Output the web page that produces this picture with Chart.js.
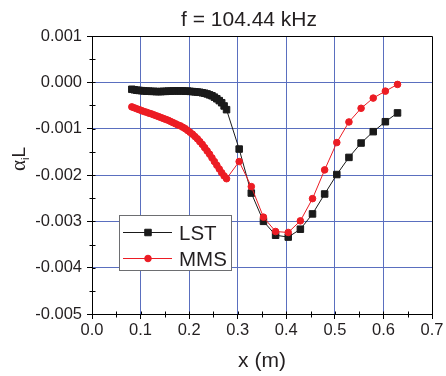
<!DOCTYPE html>
<html lang="en">
<head>
<meta charset="UTF-8" />
<title>f = 104.44 kHz</title>
<script src="https://cdn.jsdelivr.net/npm/chart.js@4"></script>
<style>
  body { margin: 0; background: #fff; }
  canvas { display: block; }
</style>
</head>
<body>
<canvas id="alphaChart" width="446" height="376"></canvas>
<script>
  // stations along x (m): dense up to 0.277, then every ~0.025
  const xStations = [
    0.082, 0.087, 0.092, 0.097, 0.102, 0.107, 0.112, 0.117, 0.122, 0.127,
    0.132, 0.137, 0.142, 0.147, 0.152, 0.157, 0.162, 0.167, 0.172, 0.177,
    0.182, 0.187, 0.192, 0.197, 0.202, 0.207, 0.212, 0.217, 0.222, 0.227,
    0.232, 0.237, 0.242, 0.247, 0.252, 0.257, 0.262, 0.267, 0.272, 0.277,
    0.303, 0.328, 0.353, 0.378, 0.404, 0.429, 0.454, 0.479, 0.504, 0.529,
    0.554, 0.579, 0.604, 0.629
  ];

  // alpha_i * L from linear stability theory
  const lstAlpha = [
    -0.000150, -0.000160, -0.000170, -0.000175, -0.000180, -0.000185, -0.000190, -0.000190, -0.000195, -0.000195,
    -0.000200, -0.000200, -0.000200, -0.000195, -0.000195, -0.000190, -0.000190, -0.000185, -0.000185, -0.000185,
    -0.000185, -0.000185, -0.000190, -0.000190, -0.000195, -0.000200, -0.000205, -0.000210, -0.000215, -0.000225,
    -0.000235, -0.000250, -0.000270, -0.000290, -0.000320, -0.000355, -0.000395, -0.000440, -0.000510, -0.000590,
    -0.001440, -0.002390, -0.003000, -0.003300, -0.003340, -0.003170, -0.002840, -0.002410, -0.001990, -0.001620,
    -0.001310, -0.001065, -0.000850, -0.000660
  ];

  // alpha_i * L from the MMS computation
  const mmsAlpha = [
    -0.000530, -0.000550, -0.000570, -0.000590, -0.000610, -0.000630, -0.000645, -0.000665, -0.000680, -0.000700,
    -0.000720, -0.000740, -0.000760, -0.000780, -0.000800, -0.000820, -0.000845, -0.000870, -0.000895, -0.000920,
    -0.000940, -0.000970, -0.001000, -0.001040, -0.001080, -0.001120, -0.001170, -0.001220, -0.001280, -0.001340,
    -0.001410, -0.001480, -0.001550, -0.001630, -0.001710, -0.001790, -0.001870, -0.001950, -0.002020, -0.002080,
    -0.001710, -0.002250, -0.002910, -0.003220, -0.003240, -0.002990, -0.002510, -0.001890, -0.001300, -0.000855,
    -0.000560, -0.000340, -0.000190, -0.000045
  ];

  const xTicks = [0, 0.1, 0.2, 0.3, 0.4, 0.5, 0.6, 0.7];
  const yTicks = [0.001, 0, -0.001, -0.002, -0.003, -0.004, -0.005];

  const FONT = "'Liberation Sans', Arial, sans-serif";
  const GRID_BLUE = '#5a6fbf';
  const LST_COLOR = '#1a1a1a';
  const MMS_COLOR = '#ec1c24';

  const toPoints = vals => xStations.map((x, i) => ({ x: x, y: vals[i] }));

  // blue grid inside the frame only, frame edges are drawn in black
  const innerGrid = (lo, hi) => ctx => {
    const v = ctx.tick ? ctx.tick.value : null;
    if (v === null || Math.abs(v - lo) < 1e-9 || Math.abs(v - hi) < 1e-9) return 'rgba(0,0,0,0)';
    return GRID_BLUE;
  };

  // frame, minor ticks, titles and legend
  const decorations = {
    id: 'decorations',
    afterDraw(chart) {
      const { ctx, chartArea: a, scales } = chart;
      const sx = scales.x, sy = scales.y;
      const top = Math.round(sy.getPixelForValue(0.001)) + 0.5;
      const right = Math.round(sx.getPixelForValue(0.7)) + 0.5;
      const bottom = Math.round(sy.getPixelForValue(-0.005)) + 0.5;
      const left = Math.round(sx.getPixelForValue(0)) + 0.5;

      ctx.save();
      ctx.strokeStyle = '#000';
      ctx.lineWidth = 1;
      ctx.beginPath();
      ctx.moveTo(left, top);
      ctx.lineTo(right, top);
      ctx.lineTo(right, bottom);
      ctx.stroke();

      // ticks: majors poke 3px inside, minors 3px both ways
      ctx.beginPath();
      for (let i = 0; i < xTicks.length; i++) {
        const px = Math.round(sx.getPixelForValue(xTicks[i])) + 0.5;
        ctx.moveTo(px, bottom - 3); ctx.lineTo(px, bottom);
        if (i < xTicks.length - 1) {
          const m = Math.round(sx.getPixelForValue((xTicks[i] + xTicks[i + 1]) / 2)) + 0.5;
          ctx.moveTo(m, bottom - 3); ctx.lineTo(m, bottom + 3);
        }
      }
      for (let i = 0; i < yTicks.length; i++) {
        const py = Math.round(sy.getPixelForValue(yTicks[i])) + 0.5;
        ctx.moveTo(left, py); ctx.lineTo(left + 3, py);
        if (i < yTicks.length - 1) {
          const m = Math.round(sy.getPixelForValue((yTicks[i] + yTicks[i + 1]) / 2)) + 0.5;
          ctx.moveTo(left - 3, m); ctx.lineTo(left + 3, m);
        }
      }
      ctx.stroke();

      // titles
      ctx.fillStyle = '#231f20';
      ctx.textBaseline = 'alphabetic';
      ctx.textAlign = 'center';
      ctx.font = '21px ' + FONT;
      ctx.fillText('f = 104.44 kHz', 249, 26);
      ctx.fillText('x (m)', (a.left + a.right) / 2, 367);

      ctx.save();
      ctx.translate(25, 171);
      ctx.rotate(-Math.PI / 2);
      ctx.textAlign = 'left';
      ctx.font = "21px 'Liberation Serif', serif";
      ctx.fillText('α', 0, 0);
      let w = ctx.measureText('α').width;
      ctx.font = '11px ' + FONT;
      ctx.fillText('i', w, 4);
      w += ctx.measureText('i').width;
      ctx.font = '19px ' + FONT;
      ctx.fillText('L', w, 0);
      ctx.restore();

      // legend box
      const bx = 119.5, by = 215.5, bw = 112, bh = 55;
      ctx.fillStyle = '#fff';
      ctx.fillRect(bx, by, bw, bh);
      ctx.strokeStyle = '#6d6e71';
      ctx.strokeRect(bx, by, bw, bh);

      const rows = [
        { ds: chart.data.datasets[0], y: 232.5, textY: 240 },
        { ds: chart.data.datasets[1], y: 258.5, textY: 266 }
      ];
      rows.forEach(r => {
        ctx.strokeStyle = r.ds.borderColor;
        ctx.lineWidth = 1;
        ctx.beginPath();
        ctx.moveTo(123, r.y);
        ctx.lineTo(172, r.y);
        ctx.stroke();
        ctx.fillStyle = r.ds.pointBackgroundColor;
        ctx.strokeStyle = r.ds.pointBorderColor;
        Chart.helpers.drawPoint(ctx, {
          pointStyle: r.ds.pointStyle,
          radius: r.ds.pointRadius,
          borderWidth: r.ds.pointBorderWidth,
          rotation: 0
        }, 148, r.y);
        ctx.fillStyle = '#231f20';
        ctx.textAlign = 'left';
        ctx.font = '20.5px ' + FONT;
        ctx.fillText(r.ds.label, 179, r.textY);
      });
      ctx.restore();
    }
  };

  new Chart(document.getElementById('alphaChart'), {
    type: 'line',
    data: {
      datasets: [
        {
          label: 'LST',
          data: toPoints(lstAlpha),
          borderColor: LST_COLOR,
          borderWidth: 1,
          pointStyle: 'rect',
          pointRadius: 4.6,
          pointBorderWidth: 1,
          pointBackgroundColor: LST_COLOR,
          pointBorderColor: LST_COLOR,
          tension: 0,
          order: 2
        },
        {
          label: 'MMS',
          data: toPoints(mmsAlpha),
          borderColor: MMS_COLOR,
          borderWidth: 1,
          pointStyle: 'circle',
          pointRadius: 3.3,
          pointBorderWidth: 1,
          pointBackgroundColor: MMS_COLOR,
          pointBorderColor: MMS_COLOR,
          tension: 0,
          order: 1
        }
      ]
    },
    options: {
      responsive: false,
      animation: false,
      layout: { padding: { top: 36, right: 14, left: 0, bottom: 0 } },
      plugins: {
        legend: { display: false },
        title: { display: false },
        tooltip: { enabled: false }
      },
      scales: {
        x: {
          type: 'linear',
          min: 0,
          max: 0.7,
          afterBuildTicks: s => { s.ticks = xTicks.map(v => ({ value: v })); },
          afterFit: s => { s.height = 62; },
          grid: { color: innerGrid(0, 0.7), tickColor: '#000', tickLength: 5, lineWidth: 1 },
          border: { color: '#000', width: 1 },
          ticks: {
            padding: 2,
            color: '#231f20',
            font: { family: FONT, size: 16.5 },
            maxRotation: 0,
            callback: v => Number(v).toFixed(1)
          }
        },
        y: {
          type: 'linear',
          min: -0.005,
          max: 0.001,
          afterBuildTicks: s => { s.ticks = yTicks.map(v => ({ value: v })); },
          afterFit: s => { s.width = 92; },
          grid: { color: innerGrid(-0.005, 0.001), tickColor: '#000', tickLength: 5, lineWidth: 1 },
          border: { color: '#000', width: 1 },
          ticks: {
            padding: 5,
            color: '#231f20',
            font: { family: FONT, size: 16.5 },
            callback: v => (Math.abs(v) < 1e-9 ? 0 : v).toFixed(3)
          }
        }
      }
    },
    plugins: [decorations]
  });
</script>
</body>
</html>
